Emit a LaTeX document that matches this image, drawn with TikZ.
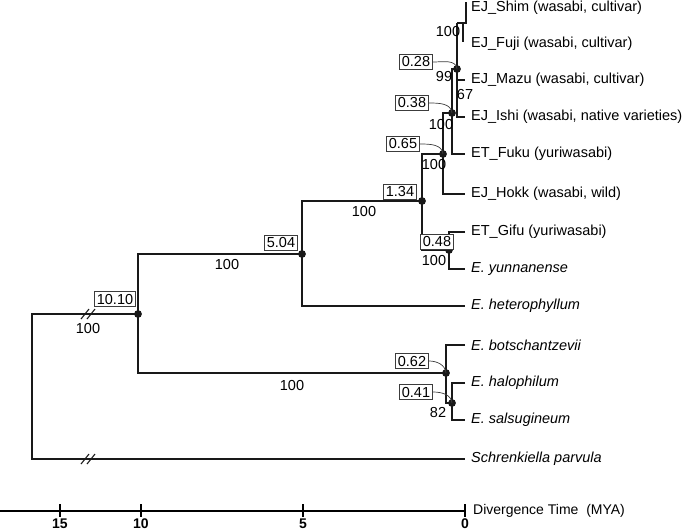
\documentclass[tikz,border=0pt]{standalone}
\usepackage{fontspec}
\setmainfont{Liberation Sans}
\usetikzlibrary{positioning, calc}
\definecolor{treeline}{RGB}{25, 25, 25}
\definecolor{boxline}{RGB}{60, 60, 60}
\tikzset{
  branch/.style={draw=treeline, line width=1.4pt},
  tiplabel/.style={anchor=west, inner sep=0pt, font=\fontsize{14.5}{16}\selectfont},
  agebox/.style={draw=boxline, line width=0.8pt, fill=white, inner xsep=2.5pt,
              inner ysep=1pt, minimum height=15pt, font=\fontsize{14.5}{16}\selectfont},
  support/.style={inner sep=0pt, font=\fontsize{14.5}{16}\selectfont},
  callout/.style={draw=boxline, line width=0.7pt},
  breakmark/.style={draw=treeline, line width=1.1pt},
  timeaxis/.style={draw=black, line width=2.6pt},
  ticklabel/.style={inner sep=0pt, font=\fontsize{14}{16}\selectfont\bfseries},
}

\begin{document}
\begin{tikzpicture}[x=1pt, y=-1pt]
  \useasboundingbox (0,0) rectangle (685,531);

  % internal nodes
  \coordinate (root)  at (32,387);
  \coordinate (n1010) at (138,314);
  \coordinate (n504)  at (302,254);
  \coordinate (n134)  at (422,201);
  \coordinate (n065)  at (443,154);
  \coordinate (n038)  at (452,113);
  \coordinate (n028)  at (457,69);
  \coordinate (sf)    at (457,23);
  \coordinate (sfj)   at (463,23);
  \coordinate (n048)  at (449,250);
  \coordinate (n062)  at (446,373);
  \coordinate (n041)  at (452,403);

  % tip ends
  \coordinate (t_shim) at (466,2);
  \coordinate (t_fuji) at (463,42);
  \coordinate (t_mazu) at (465,80);
  \coordinate (t_ishi) at (465,117);
  \coordinate (t_fuku) at (465,154);
  \coordinate (t_hokk) at (465,194);
  \coordinate (t_gifu) at (465,232);
  \coordinate (t_yun)  at (465,269);
  \coordinate (t_het)  at (465,306);
  \coordinate (t_bot)  at (465,345);
  \coordinate (t_hal)  at (465,383);
  \coordinate (t_sal)  at (465,420);
  \coordinate (t_sch)  at (465,459);

  % branches
  \draw[branch] (sf) -| (t_shim);
  \draw[branch] (sfj) -- (t_fuji);
  \draw[branch] (sf) |- (t_ishi);
  \draw[branch] (n028) |- (t_mazu);
  \draw[branch] (n028) -| (n038) |- (t_fuku);
  \draw[branch] (n038) -| (n065) |- (t_hokk);
  \draw[branch] (n065) -| (n134) |- (n048);
  \draw[branch] (t_gifu) -| (n048) |- (t_yun);
  \draw[branch] (n134) -| (n504) |- (t_het);
  \draw[branch] (n504) -| (n1010) |- (n062);
  \draw[branch] (t_bot) -| (n062) |- (n041);
  \draw[branch] (t_hal) -| (n041) |- (t_sal);
  \draw[branch] (n1010) -| (root) |- (t_sch);

  % broken branches
  \coordinate (brkA) at (88,314);
  \coordinate (brkB) at (88,459);
  \foreach \brk in {brkA,brkB}
    \foreach \d in {-3,3}
      \draw[breakmark] ($(\brk)+(\d-4,5)$) -- ($(\brk)+(\d+4,-5)$);

  \foreach \n in {n028,n038,n065,n134,n048,n504,n1010,n062,n041}
    \fill[treeline] (\n) circle[radius=3.9pt];

  % divergence times
  \node[agebox] (b028)  at (416,62)  {0.28};
  \node[agebox] (b038)  at (412,103) {0.38};
  \node[agebox] (b065)  at (403,144) {0.65};
  \node[agebox] (b134)  at (400,192) {1.34};
  \node[agebox] (b048)  at (437,242) {0.48};
  \node[agebox] (b504)  at (281,243) {5.04};
  \node[agebox] (b1010) at (115,299) {10.10};
  \node[agebox] (b062)  at (412,361) {0.62};
  \node[agebox] (b041)  at (416,392) {0.41};
  \draw[callout] (b028.east) to[out=0, in=95] (n028);
  \draw[callout] (b038.east) to[out=0, in=95] (n038);
  \draw[callout] (b065.east) to[out=0, in=95] (n065);
  \draw[callout] (b062.east) to[out=0, in=95] (n062);
  \draw[callout] (b041.east) to[out=0, in=95] (n041);

  % bootstrap support
  \node[support] (s_sf)   at (448,32)  {100};
  \node[support] (s028)   at (444,77)  {99};
  \node[support] (s_ish)  at (465,95)  {67};
  \node[support] (s038)   at (441,125) {100};
  \node[support] (s065)   at (434,165) {100};
  \node[support] (s134)   at (364,212) {100};
  \node[support] (s048)   at (434,261) {100};
  \node[support] (s504)   at (227,265) {100};
  \node[support] (s1010)  at (88,328)  {100};
  \node[support] (s062)   at (292,385) {100};
  \node[support] (s041)   at (438,412) {82};

  % taxa
  \node[tiplabel] (l_shim) at (471,8)  {EJ\_Shim (wasabi, cultivar)};
  \node[tiplabel] (l_fuji) at (471,44) {EJ\_Fuji (wasabi, cultivar)};
  \node[tiplabel, right=6pt of t_mazu] (l_mazu) {EJ\_Mazu (wasabi, cultivar)};
  \node[tiplabel, right=6pt of t_ishi] (l_ishi) {EJ\_Ishi (wasabi, native varieties)};
  \node[tiplabel, right=6pt of t_fuku] (l_fuku) {ET\_Fuku (yuriwasabi)};
  \node[tiplabel, right=6pt of t_hokk] (l_hokk) {EJ\_Hokk (wasabi, wild)};
  \node[tiplabel, right=6pt of t_gifu] (l_gifu) {ET\_Gifu (yuriwasabi)};
  \node[tiplabel, right=6pt of t_yun]  (l_yun)  {\itshape E. yunnanense};
  \node[tiplabel, right=6pt of t_het]  (l_het)  {\itshape E. heterophyllum};
  \node[tiplabel, right=6pt of t_bot]  (l_bot)  {\itshape E. botschantzevii};
  \node[tiplabel, right=6pt of t_hal]  (l_hal)  {\itshape E. halophilum};
  \node[tiplabel, right=6pt of t_sal]  (l_sal)  {\itshape E. salsugineum};
  \node[tiplabel, right=6pt of t_sch]  (l_sch)  {\itshape Schrenkiella parvula};

  % time axis
  \coordinate (axstart) at (0,511);
  \coordinate (ax0) at (465,511);
  \draw[timeaxis] (axstart) -- (ax0);
  \foreach \t/\xx in {15/60,10/141,5/303,0/465} {
    \draw[timeaxis, line width=2.2pt] (\xx,504) -- (\xx,517);
    \node[ticklabel] (tick\t) at (\xx,524) {\t};
  }
  \node[tiplabel, right=8pt of ax0, font=\fontsize{14}{16}\selectfont] (axtitle) {Divergence Time~~(MYA)};
\end{tikzpicture}
\end{document}
